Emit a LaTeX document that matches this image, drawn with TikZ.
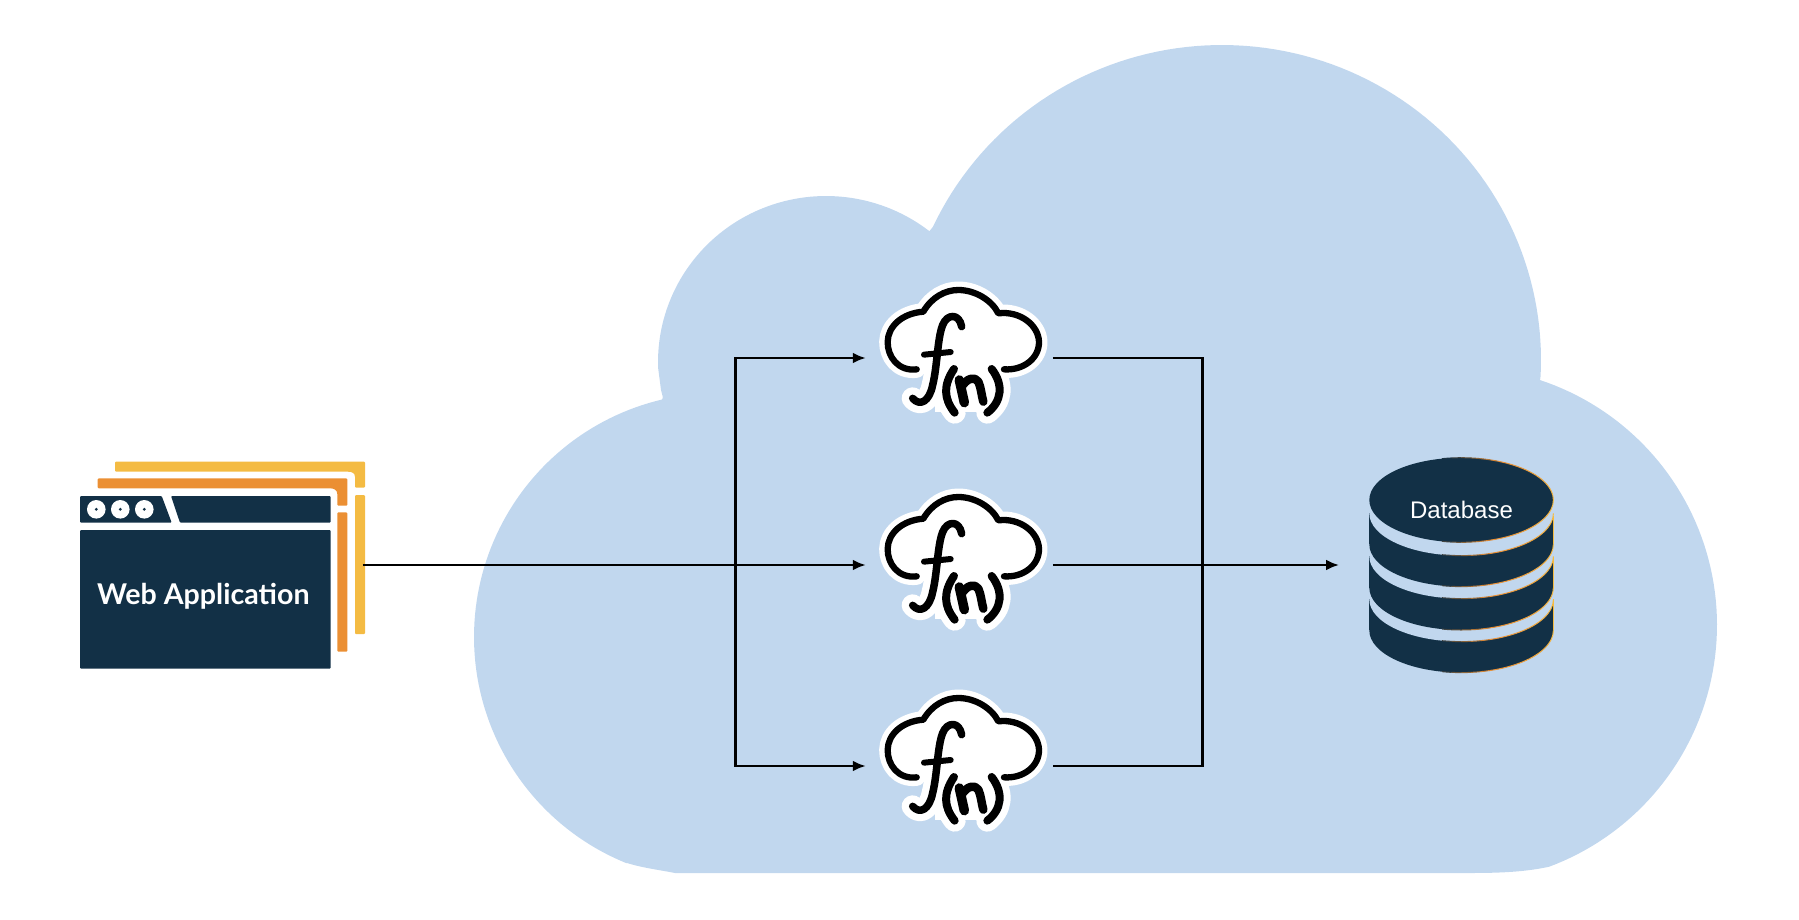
\documentclass[tikz,border=0pt]{standalone}
\usepackage{fontspec}
\setmainfont{Liberation Sans}
\newfontfamily\gillish{Lato}
\usetikzlibrary{arrows.meta}
\definecolor{cloudblue}{HTML}{C1D7EE}
\definecolor{navy}{HTML}{123046}
\definecolor{amber}{HTML}{F4BB43}
\definecolor{tangerine}{HTML}{EB8F33}
\tikzset{
  conn/.style={line width=2.6pt,black},
  arr/.style={conn,-{Latex[length=13pt,width=11pt]}},
  anchorbox/.style={inner sep=0pt,outer sep=0pt,minimum height=130pt},
  halo/.style={white,line width=17pt,line cap=round,line join=round},
  ink/.style={black,line cap=round,line join=round},
}
\newcommand{\rimarc}[4]{%
  \foreach \a in {#3,#4}{%
    \pgfmathsetmacro{\aa}{abs(\a)}%
    \pgfmathsetmacro{\mo}{\aa>68?max(0,(104-\aa)/36*100):100}%
    \pgfmathsetmacro{\my}{\aa>68?0:(68-\aa)/68*100}%
    \colorlet{rimc}{tangerine!\mo!navy}%
    \colorlet{rimd}{amber!\my!rimc}%
    \pgfmathsetmacro{\b}{\a+6}%
    \draw[rimd,line width=1pt] plot[domain=\a:\b,samples=3] ({#1+92*cos(\x)},{#2+42.3*sin(\x)});
  }}
\newcommand{\diskbody}[2]{%
  \fill[navy] (1369.3,#1) rectangle (1553.3,#2);
  \fill[navy] (1461.3,#2) ellipse [x radius=92pt,y radius=42.3pt];
}
\newcommand{\fnicon}[1]{%
  \begin{scope}[xshift=860pt,yshift=-#1pt,x=0.3333pt,y=-0.3333pt]
    \def\cloudline{(170,298) .. controls (115,305) and (82,260) .. (83,215) .. controls (84,170) and (125,130) .. (190,125)
      .. controls (215,82) and (255,60) .. (295,60) .. controls (345,60) and (395,90) .. (415,130)
      .. controls (480,122) and (535,165) .. (537,215) .. controls (538,265) and (490,302) .. (432,298)}
    \def\fstem{(305,170) .. controls (298,130) and (262,130) .. (248,165) .. controls (232,205) and (232,290) .. (218,345) .. controls (208,395) and (180,410) .. (158,385)}
    \def\fbar{(192,254) -- (272,246)}
    \def\lp{(282,297) .. controls (250,345) and (250,385) .. (284,428)}
    \def\rp{(395,297) .. controls (432,345) and (425,395) .. (382,428)}
    \def\nl{(298,330) -- (313,398)}
    \def\na{(305,350) .. controls (320,325) and (345,318) .. (355,335) .. controls (364,355) and (364,375) .. (370,395)}
    \fill[white] \cloudline -- cycle;
    \draw[halo] \cloudline;
    \draw[halo,line width=22pt] \fstem;
    \draw[halo,line width=22pt] \lp;
    \draw[halo,line width=22pt] \rp;
    \fill[white] (225,280) rectangle (410,425);
    \draw[ink,line width=6.3pt] \cloudline;
    \draw[ink,line width=7.5pt] \fstem;
    \draw[ink,line width=6pt] \fbar;
    \draw[ink,line width=8pt] \lp;
    \draw[ink,line width=8pt] \rp;
    \draw[ink,line width=9.5pt] \nl;
    \draw[ink,line width=8.5pt] \na;
  \end{scope}}
\begin{document}
\begin{tikzpicture}[x=1pt,y=-1pt]
\useasboundingbox (0,0) rectangle (1799,919);
% big cloud from four lobes
\fill[cloudblue] plot[domain=205:363,samples=90] ({1222+319*cos(\x)},{360+315*sin(\x)})
  -- plot[domain=-71.7:69.5,samples=80] ({1459+258*cos(\x)},{625+258*sin(\x)})
  .. controls (1525,872) and (1500,873) .. (1469,873)
  -- (675,873) .. controls (660,870) and (643,868) .. (627,863)
  -- plot[domain=112:256.7,samples=90] ({718+244*cos(\x)},{637+244*sin(\x)})
  .. controls (664,398) and (662,395) .. (661,390)
  -- plot[domain=178:308,samples=70] ({826+168*cos(\x)},{362+166*sin(\x)}) -- cycle;
% web application windows
\fill[amber,rounded corners=1pt] (115,461.7) -- (365,461.7) -- (365,487.7) -- (355,487.7) -- (355,478) .. controls (355,473) and (352,471.7) .. (347,471.7) -- (115,471.7) -- cycle;
\fill[amber,rounded corners=1pt] (355,495) rectangle (365,634);
\fill[tangerine,rounded corners=1pt] (97.7,478.3) -- (347.3,478.3) -- (347.3,505.7) -- (337.3,505.7) -- (337.3,495) .. controls (337.3,490) and (334,488.3) .. (329,488.3) -- (97.7,488.3) -- cycle;
\fill[tangerine,rounded corners=1pt] (337.3,512.3) rectangle (347.3,651.7);
\fill[navy,rounded corners=1pt] (80,496) -- (161.7,496) -- (171.7,522.7) -- (80,522.7) -- cycle;
\fill[navy,rounded corners=1pt] (171,496) -- (330.7,496) -- (330.7,522.7) -- (180,522.7) -- cycle;
\fill[navy,rounded corners=1pt] (80,530) rectangle (330.7,668.7);
\foreach \c in {96.3,120.3,144.3}{
  \fill[white] (\c,509.3) circle (9.3pt);
  \fill[navy] (\c,509.3) circle (1.6pt);
}
\node[anchor=center,inner sep=0pt,text=white] (webtext) at (203.3,596) {\gillish\fontsize{28.6}{31}\selectfont\bfseries Web Application};
% database
\diskbody{599.3}{630.3}
\fill[cloudblue] (1461.3,599.3) ellipse [x radius=92pt,y radius=42.3pt];
\rimarc{1461.3}{630.3}{0}{6,...,100}
\rimarc{1461.3}{599.3}{0}{6,...,100}
\draw[amber,line width=1pt] (1553.3,599) -- (1553.3,630.3);
\diskbody{556.3}{587.7}
\fill[cloudblue] (1461.3,556.3) ellipse [x radius=92pt,y radius=42.3pt];
\rimarc{1461.3}{587.7}{0}{6,...,100}
\rimarc{1461.3}{556.3}{0}{6,...,100}
\draw[amber,line width=1pt] (1553.3,557) -- (1553.3,587.7);
\diskbody{513.3}{544.3}
\fill[cloudblue] (1461.3,513.3) ellipse [x radius=92pt,y radius=42.3pt];
\rimarc{1461.3}{544.3}{0}{6,...,100}
\rimarc{1461.3}{513.3}{0}{6,...,100}
\draw[amber,line width=1pt] (1553.3,516) -- (1553.3,544.3);
\fill[navy] (1461.3,500) ellipse [x radius=92pt,y radius=42.3pt];
\rimarc{1461.3}{500}{0}{6,...,100}
\rimarc{1461.3}{500}{-6}{-12,...,-102}
\node[anchor=center,inner sep=0pt,text=white,font=\fontsize{24}{26}\selectfont] (dbtext) at (1461.5,509.5) {Database};
% function icons
\fnicon{270}
\fnicon{477}
\fnicon{678}
% anchors for connectors
\node[anchorbox,minimum width=283pt] (web) at (221,565) {};
\node[anchorbox,minimum width=187pt] (f1) at (959.3,358) {};
\node[anchorbox,minimum width=187pt] (f2) at (959.3,565) {};
\node[anchorbox,minimum width=187pt] (f3) at (959.3,766) {};
\node[anchorbox,minimum width=244pt] (db) at (1461,565) {};
\coordinate (trunk) at (735.4,565);
\coordinate (collect) at (1202.4,565);
% connectors
\draw[arr] (web.east) -- (f2.west);
\draw[arr] (trunk) |- (f1.west);
\draw[arr] (trunk) |- (f3.west);
\draw[conn,line join=miter] (f1.east) -| (collect) |- (f3.east);
\draw[arr] (f2.east) -- (db.west);
\end{tikzpicture}
\end{document}
